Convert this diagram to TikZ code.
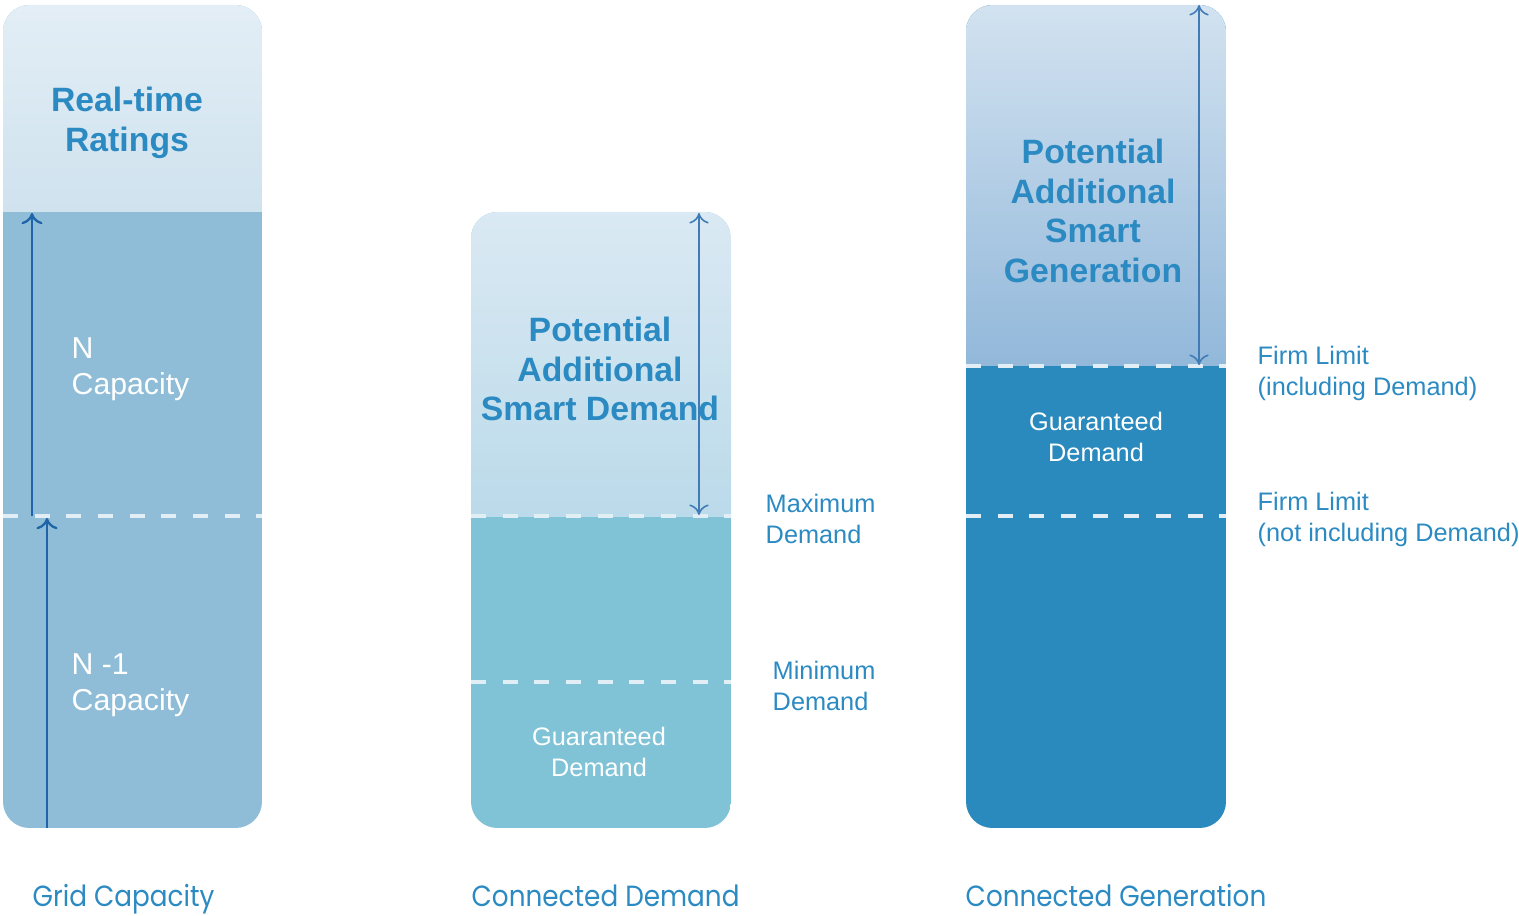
\documentclass[tikz,border=0pt]{standalone}
\usepackage{fontspec}
\setmainfont{Liberation Sans}
\newfontfamily\titlefont[FakeStretch=0.9]{Poppins}
\usetikzlibrary{arrows.meta}
\definecolor{txtblue}{HTML}{2B8AC2}
\definecolor{arrblue}{HTML}{1F64A8}
\definecolor{cOneTop}{HTML}{E3EEF6}
\definecolor{cOneTopB}{HTML}{CFE2EE}
\definecolor{cOneLow}{HTML}{8FBDD7}
\definecolor{cTwoTop}{HTML}{DAE9F3}
\definecolor{cTwoTopB}{HTML}{BBDAEA}
\definecolor{cTwoLow}{HTML}{80C3D7}
\definecolor{cThrTop}{HTML}{D2E2F0}
\definecolor{cThrTopB}{HTML}{92B8DA}
\definecolor{cThrLow}{HTML}{2A8ABD}
\definecolor{dashcol}{HTML}{E2EEF5}
\tikzset{
  boldlbl/.style={font=\fontsize{9.6}{11.3}\selectfont\bfseries, text=txtblue, align=center, inner sep=0pt},
  whitelbl/.style={font=\fontsize{7.2}{8.8}\selectfont, text=white, align=center, inner sep=0pt},
  whitelft/.style={font=\fontsize{8.6}{10.2}\selectfont, text=white, align=left, inner sep=0pt, anchor=west},
  sidelbl/.style={font=\fontsize{7.2}{8.8}\selectfont, text=txtblue, align=left, inner sep=0pt, anchor=west},
  titlelbl/.style={font=\titlefont\fontsize{8.3}{10}\selectfont, text=txtblue, inner sep=0pt, anchor=base west},
  limitline/.style={draw=dashcol, line width=0.9pt, dash pattern=on 4.3pt off 4.7pt},
  thickarr/.style={draw=arrblue, line width=0.65pt, -{To[length=3.2pt,width=6pt]}},
  thinarr/.style={draw=arrblue!85, line width=0.45pt, {To[length=3pt,width=5.5pt]}-{To[length=3pt,width=5.5pt]}},
  colclip/.style={rounded corners=7.5pt},
}
\begin{document}
\begin{tikzpicture}[x=0.01cm,y=-0.01cm]
\useasboundingbox (0,0) rectangle (1519,916);
% ---------- Column 1: Grid Capacity
\begin{scope}
  \clip[colclip] (3,5) rectangle (262,828);
  \fill[cOneLow] (3,5) rectangle (262,828);
  \shade[top color=cOneTop, bottom color=cOneTopB] (3,5) rectangle (262,212);
\end{scope}
\draw[limitline] (3,516) -- (262,516);
\coordinate (a1s) at (32,516);
\coordinate (a1e) at (32,213);
\coordinate (a2s) at (47,828);
\coordinate (a2e) at (47,518);
\draw[thickarr] (a1s) -- (a1e);
\draw[thickarr] (a2s) -- (a2e);
\node[boldlbl] (rtr) at (127,123) {Real-time\\Ratings};
\node[whitelft] (ncap) at (71,369) {N\\Capacity};
\node[whitelft] (n1cap) at (71,685) {N -1\\Capacity};
\node[titlelbl] (t1) at (32,906) {Grid Capacity};
% ---------- Column 2: Connected Demand
\begin{scope}
  \clip[colclip] (471,212) rectangle (731,828);
  \fill[cTwoLow] (471,212) rectangle (731,828);
  \shade[top color=cTwoTop, bottom color=cTwoTopB] (471,212) rectangle (731,516);
\end{scope}
\draw[limitline] (471,516) -- (731,516);
\draw[limitline] (471,682) -- (731,682);
\node[boldlbl] (pasd) at (600,369) {Potential\\Additional\\Smart Demand};
\coordinate (b1s) at (699,213);
\coordinate (b1e) at (699,515);
\draw[thinarr] (b1s) -- (b1e);
\node[whitelbl] (gd1) at (599,752) {Guaranteed\\Demand};
\node[sidelbl] (maxd) at (765,519) {Maximum\\Demand};
\node[sidelbl] (mind) at (772,686) {Minimum\\Demand};
\node[titlelbl] (t2) at (471,906) {Connected Demand};
% ---------- Column 3: Connected Generation
\begin{scope}
  \clip[colclip] (966,5) rectangle (1226,828);
  \fill[cThrLow] (966,5) rectangle (1226,828);
  \shade[top color=cThrTop, bottom color=cThrTopB] (966,5) rectangle (1226,366);
\end{scope}
\draw[limitline] (966,366) -- (1226,366);
\draw[limitline] (966,516) -- (1226,516);
\node[boldlbl] (pasg) at (1093,211) {Potential\\Additional\\Smart\\Generation};
\coordinate (c1s) at (1199,5);
\coordinate (c1e) at (1199,365);
\draw[thinarr] (c1s) -- (c1e);
\node[whitelbl] (gd2) at (1096,437) {Guaranteed\\Demand};
\node[sidelbl] (fl1) at (1257,373) {Firm Limit\\(including Demand)};
\node[sidelbl] (fl2) at (1257,519) {Firm Limit\\(not including Demand)};
\node[titlelbl] (t3) at (965,906) {Connected Generation};
\end{tikzpicture}
\end{document}
